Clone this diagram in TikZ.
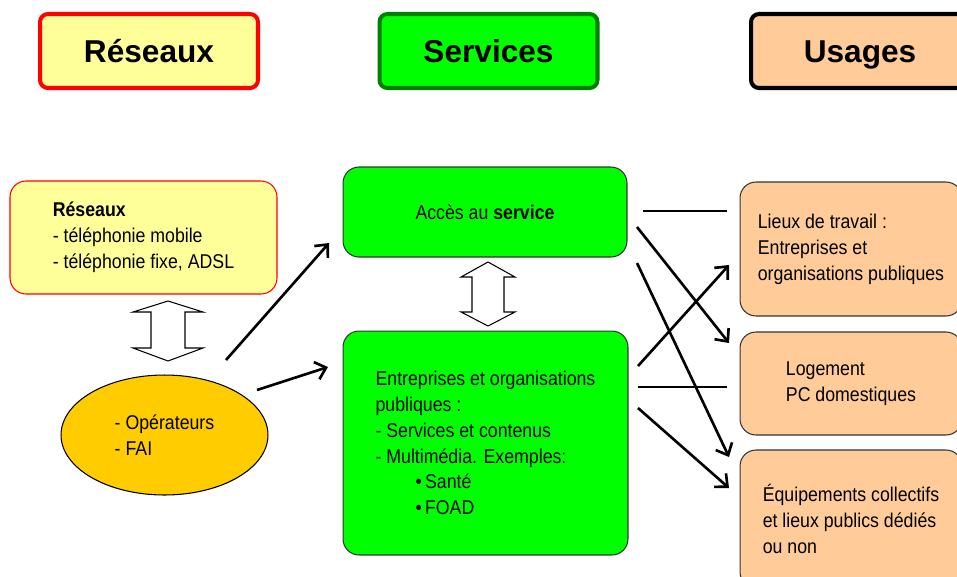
\documentclass[tikz,border=0pt]{standalone}
\usepackage{fontspec}
\setmainfont{Liberation Sans}[FakeStretch=0.89]
\newfontfamily\titrefont{Liberation Sans}
\usetikzlibrary{arrows.meta,shapes.geometric}
\definecolor{jaune}{HTML}{FFFF99}
\definecolor{vert}{HTML}{00FF00}
\definecolor{vertfonce}{HTML}{008000}
\definecolor{peche}{HTML}{FFCC99}
\definecolor{ocre}{HTML}{FFCC00}

\begin{document}
\begin{tikzpicture}[x=0.02cm,y=-0.02cm,
    titre/.style={rounded corners=0.16cm,line width=2.3pt,minimum width=4.36cm,minimum height=1.48cm,
      text height=12.9pt,text depth=0pt,font=\titrefont\bfseries\fontsize{18}{20}\selectfont},
    texte/.style={align=left,font=\fontsize{11.34}{14.74}\selectfont},
    boite/.style={texte,draw=black!80,line width=0.6pt,rounded corners=0.32cm},
    fleche/.style={line width=1.5pt,-{Straight Barb[length=0.2cm,width=0.36cm]}},
    trait/.style={line width=1.5pt},
    creux/.style={draw=black,line width=0.6pt,fill=white}]
  \useasboundingbox (0,0) rectangle (957,576);
  % titres
  \node[titre,draw=red,fill=jaune](reseaux)at(149,51){Réseaux};
  \node[titre,draw=vertfonce,fill=vert](services)at(488.5,51){Services};
  \node[titre,draw=black,fill=peche](usages)at(860,51){Usages};
  % reseaux
  \node[boite,draw=red,fill=jaune,minimum width=5.34cm,minimum height=2.26cm](res)at(143.5,237.5)
    {\textbf{Réseaux}\\- téléphonie mobile\\- téléphonie fixe, ADSL};
  \node[texte,ellipse,draw=black,line width=0.6pt,fill=ocre,inner sep=0pt,minimum width=4.14cm,minimum height=2.4cm](fai)at(164.5,435)
    {- Opérateurs\\- FAI};
  \draw[creux] (168,301) -- (203,312) -- (185,312) -- (185,348) -- (203,348) -- (168,361)
    -- (133,348) -- (151,348) -- (151,312) -- (133,312) -- cycle;
  % services
  \node[boite,fill=vert,minimum width=5.68cm,minimum height=1.8cm](acces)at(485,212)
    {Accès au \textbf{service}};
  \node[boite,fill=vert,minimum width=5.7cm,minimum height=4.48cm](entr)at(485.5,443)
    {Entreprises et organisations\\publiques :\\- Services et contenus\\- Multimédia. Exemples:\\
     \hspace*{0.8cm}•\,Santé\\\hspace*{0.8cm}•\,FOAD};
  \draw[creux] (488,262) -- (515,277) -- (504,277) -- (504,312) -- (515,312) -- (488,326)
    -- (461,312) -- (472,312) -- (472,277) -- (461,277) -- cycle;
  % usages
  \node[boite,fill=peche,minimum width=4.44cm,minimum height=2.68cm](travail)at(851,249)
    {Lieux de travail :\\Entreprises et\\organisations publiques};
  \node[boite,fill=peche,minimum width=4.44cm,minimum height=2.06cm](logement)at(851,383.5)
    {Logement\\PC domestiques};
  \node[boite,fill=peche,minimum width=4.44cm,minimum height=2.76cm](equip)at(851,519)
    {Équipements collectifs\\et lieux publics dédiés\\ou non};
  % fleches
  \coordinate (d1) at (226,360);
  \coordinate (a1) at (329,243);
  \coordinate (d2) at (257,390);
  \coordinate (a2) at (328,367);
  \draw[fleche](d1)--(a1);
  \draw[fleche](d2)--(a2);
  \coordinate (s1) at (643,211);
  \coordinate (s2) at (637,227);
  \coordinate (s3) at (637,263);
  \coordinate (s4) at (638,366);
  \coordinate (s5) at (638,387);
  \coordinate (s6) at (638,408);
  \coordinate (u1) at (727,211);
  \coordinate (u2) at (729,343);
  \coordinate (u3) at (729,457);
  \coordinate (u4) at (729,265);
  \coordinate (u5) at (727,387);
  \coordinate (u6) at (729,488);
  \draw[trait](s1)--(u1);
  \draw[fleche](s2)--(u2);
  \draw[fleche](s3)--(u3);
  \draw[fleche](s4)--(u4);
  \draw[trait](s5)--(u5);
  \draw[fleche](s6)--(u6);
\end{tikzpicture}
\end{document}
